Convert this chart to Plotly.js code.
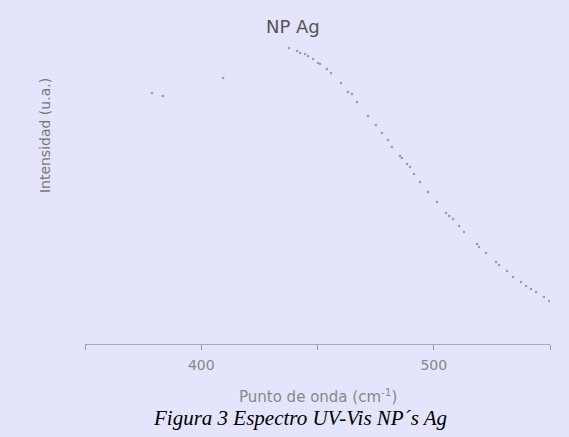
<!DOCTYPE html>
<html>
<head>
<meta charset="utf-8">
<script src="https://cdn.plot.ly/plotly-3.0.1.min.js"></script>
<style>html,body{margin:0;padding:0;background:#E4E4FC;}#chart{width:569px;height:437px;}</style>
</head>
<body>
<div id="chart"></div>
<script>
// Wavelength (nm) and intensity (a.u.)
const wavelength = [378.8, 383.5, 409.4,
  437.7, 441.2, 442.5, 444.6, 445.9, 448.1, 450.2, 451.1, 454.1, 455.8,
  460.1, 463.1, 464.8, 467.0, 471.7, 475.1, 477.7, 480.3, 482.0, 485.5,
  486.3, 488.5, 489.8, 491.5, 494.1, 497.5, 501.4, 505.3, 506.6, 508.3,
  510.9, 513.0, 518.6, 519.5, 522.5, 526.8, 528.1, 531.5, 534.1, 537.5,
  539.7, 541.8, 544.0, 547.4, 549.6];
const intensity = [0.837, 0.827, 0.887,
  0.987, 0.977, 0.970, 0.967, 0.960, 0.950, 0.937, 0.933, 0.917, 0.903,
  0.870, 0.840, 0.833, 0.807, 0.760, 0.730, 0.703, 0.680, 0.657, 0.627,
  0.620, 0.600, 0.590, 0.567, 0.540, 0.507, 0.473, 0.437, 0.427, 0.417,
  0.393, 0.373, 0.333, 0.323, 0.303, 0.273, 0.263, 0.243, 0.223, 0.207,
  0.193, 0.183, 0.173, 0.157, 0.143];
const tickVals = [350, 400, 450, 500, 550];
const tickLabels = ['', '400', '', '500', ''];

const trace = {
  x: wavelength, y: intensity, type: 'scatter', mode: 'markers',
  marker: {size: 2.5, color: '#9a9aa6'}, hoverinfo: 'skip'
};
const sans = 'DejaVu Sans, Liberation Sans, sans-serif';
const layout = {
  width: 569, height: 437,
  paper_bgcolor: '#E4E4FC', plot_bgcolor: '#E4E4FC',
  margin: {l: 85, r: 19, t: 44, b: 93},
  showlegend: false,
  font: {family: sans, color: '#777'},
  xaxis: {
    range: [350, 550], tickvals: tickVals, ticktext: tickLabels,
    showgrid: false, zeroline: false, showline: true, linecolor: '#aaaaaa', linewidth: 1,
    ticks: 'outside', ticklen: 5, tickcolor: '#999', ticklabelstandoff: 3,
    tickfont: {size: 14, color: '#888', family: sans}
  },
  yaxis: {range: [0, 1], visible: false, showgrid: false, zeroline: false},
  annotations: [
    {text: 'NP Ag', xref: 'paper', yref: 'paper', x: 0.447, y: 1.057,
     xanchor: 'center', yanchor: 'middle', showarrow: false,
     font: {size: 18, color: '#555', family: sans}},
    {text: 'Intensidad (u.a.)', xref: 'paper', yref: 'paper', x: -0.086, y: 0.693,
     xanchor: 'center', yanchor: 'middle', textangle: -90, showarrow: false,
     font: {size: 14, color: '#777', family: sans}},
    {text: 'Punto de onda (cm<sup>-1</sup>)', xref: 'paper', yref: 'paper', x: 0.501, y: -0.173,
     xanchor: 'center', yanchor: 'middle', showarrow: false,
     font: {size: 15, color: '#888', family: sans}},
    {text: '<i>Figura 3 Espectro UV-Vis NP´s Ag</i>', xref: 'paper', yref: 'paper', x: 0.462, y: -0.247,
     xanchor: 'center', yanchor: 'middle', showarrow: false,
     font: {size: 21, color: '#000', family: 'Liberation Serif, Times New Roman, serif'}}
  ]
};
Plotly.newPlot('chart', [trace], layout, {displayModeBar: false, staticPlot: true});
</script>
</body>
</html>
